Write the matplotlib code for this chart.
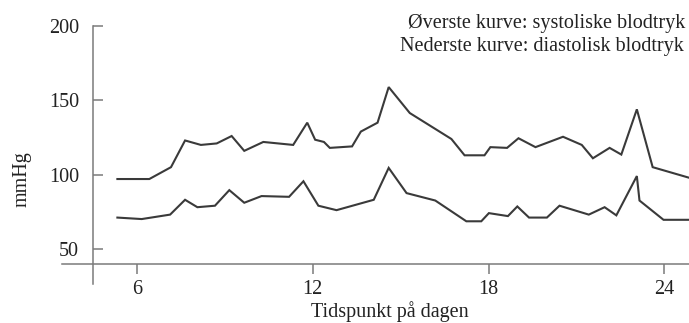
import matplotlib
matplotlib.use("Agg")
import matplotlib.pyplot as plt

plt.rcParams['font.family'] = 'Liberation Serif'

# Blood pressure over the day (hour of day, mmHg)
sys_hour = [5.33, 6.42, 7.16, 7.64, 8.18, 8.72, 9.23, 9.66, 10.31, 11.33, 11.81,
            12.08, 12.38, 12.58, 13.34, 13.64, 14.21, 14.59, 15.31, 16.73, 17.18,
            17.86, 18.06, 18.63, 19.02, 19.60, 20.54, 21.18, 21.56, 22.13, 22.53,
            23.06, 23.60, 24.82]
sys_mmhg = [97, 97, 105, 123, 120, 121, 126, 116, 122, 120, 135,
            123.5, 122, 118, 119, 129, 135, 159, 141.5, 124, 113,
            113, 118.5, 118, 124.5, 118.5, 125.5, 120, 111, 118, 113.5,
            144, 105, 98]

dia_hour = [5.33, 6.16, 7.13, 7.64, 8.06, 8.66, 9.15, 9.66, 10.25, 11.19, 11.68,
            12.19, 12.81, 14.08, 14.59, 15.20, 16.18, 17.24, 17.75, 18.01, 18.66,
            18.98, 19.38, 19.99, 20.42, 21.42, 21.96, 22.36, 23.06, 23.15, 23.97,
            24.82]
dia_mmhg = [71, 70, 73, 83, 78, 79, 89.5, 81, 85.5, 85, 95.5,
            79, 76, 83, 104.5, 87.5, 82.5, 68.5, 68.5, 74, 72,
            78.5, 71, 71, 79, 73, 78, 72.5, 99, 82.5, 69.5,
            69.5]

hour_ticks = [6, 12, 18, 24]
mmhg_ticks = [50, 100, 150, 200]

fig = plt.figure(figsize=(6.89, 3.23), dpi=100)
ax = fig.add_axes([0.09, 0.1198, 0.91, 0.7988])

line_kw = dict(color='#3a3a3a', lw=1.5, solid_joinstyle='miter')
ax.plot(sys_hour, sys_mmhg, **line_kw)
ax.plot(dia_hour, dia_mmhg, **line_kw)

ax.set_xlim(3.44, 24.84)
ax.set_ylim(26, 200)

axis_col = '#7a7a7a'
for side in ('top', 'right'):
    ax.spines[side].set_visible(False)
ax.spines['left'].set_position(('data', 4.5))
ax.spines['bottom'].set_position(('data', 40))
for side in ('left', 'bottom'):
    ax.spines[side].set_color(axis_col)
    ax.spines[side].set_linewidth(1.1)

ax.set_xticks(hour_ticks)
ax.set_yticks(mmhg_ticks)
ax.tick_params(axis='y', direction='in', length=7, width=1.1, color=axis_col,
               pad=10, labelsize=14.5, labelcolor='#222222')
ax.tick_params(axis='x', direction='out', length=7, width=1.1, color=axis_col,
               pad=5, labelsize=14.5, labelcolor='#222222')

fig.text(0.032, 0.445, 'mmHg', rotation=90, ha='center', va='center',
         fontsize=14.5, color='#222222')
fig.text(0.566, 0.035, 'Tidspunkt på dagen', ha='center', va='center',
         fontsize=14.5, color='#222222')
fig.text(0.793, 0.928, 'Øverste kurve: systoliske blodtryk', ha='center',
         va='center', fontsize=14.5, color='#222222')
fig.text(0.786, 0.855, 'Nederste kurve: diastolisk blodtryk', ha='center',
         va='center', fontsize=14.5, color='#222222')

fig.savefig('out.png', dpi=100, facecolor='white')
